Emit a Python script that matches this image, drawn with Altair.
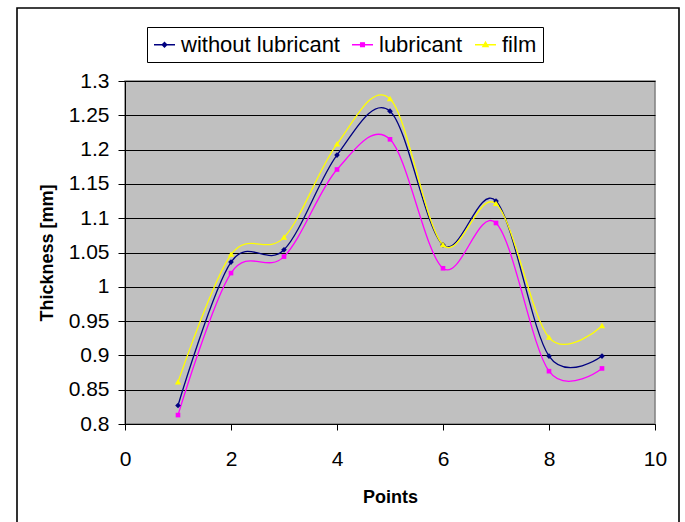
import altair as alt
import pandas as pd

points = [1, 2, 3, 4, 5, 6, 7, 8, 9]
without_lubricant = [0.827, 1.036, 1.054, 1.192, 1.256, 1.061, 1.125, 0.899, 0.899]
lubricant = [0.813, 1.020, 1.044, 1.171, 1.215, 1.027, 1.093, 0.877, 0.881]
film = [0.861, 1.047, 1.072, 1.208, 1.274, 1.061, 1.121, 0.926, 0.943]

series_names = ["without lubricant", "lubricant", "film"]
series_colors = ["#000080", "#FF00FF", "#FFFF00"]
# markers drawn inside a 21px symbol box (diamond, square, triangle)
series_shapes = [
    "M0,-0.27L0.27,0L0,0.27L-0.27,0Z",
    "M-0.22,-0.22L0.22,-0.22L0.22,0.22L-0.22,0.22Z",
    "M0,-0.3L0.3,0.22L-0.3,0.22Z",
]
# legend keys: a short line with the marker in its middle
legend_shapes = [
    "M-1,0L1,0M0,-0.22L0.22,0L0,0.22L-0.22,0Z",
    "M-1,0L1,0M-0.18,-0.18L0.18,-0.18L0.18,0.18L-0.18,0.18Z",
    "M-1,0L1,0M0,-0.25L0.25,0.18L-0.25,0.18Z",
]
x_ticks = [0, 2, 4, 6, 8, 10]
y_ticks = [0.8, 0.85, 0.9, 0.95, 1.0, 1.05, 1.1, 1.15, 1.2, 1.25, 1.3]
caption_text = "(Fig. 2)"

rows = []
for name, vals in zip(series_names, [without_lubricant, lubricant, film]):
    for p, v in zip(points, vals):
        rows.append({"Points": p, "Thickness": v, "Series": name,
                     "order": series_names.index(name)})
df = pd.DataFrame(rows)

FONT = "Liberation Sans"
SYM = 441

x_enc = alt.X(
    "Points:Q",
    scale=alt.Scale(domain=[0, 10], nice=False),
    axis=alt.Axis(
        values=x_ticks, title="Points", grid=False, tickSize=6, labelPadding=18,
        labelFlush=False,
        labelFontSize=21, titleFontSize=18, titleFontWeight="bold", titlePadding=19,
        domainColor="#000000", tickColor="#000000", labelColor="#000000", titleColor="#000000",
        labelFont=FONT, titleFont=FONT,
    ),
)
y_enc = alt.Y(
    "Thickness:Q",
    scale=alt.Scale(domain=[0.8, 1.3], nice=False, zero=False),
    axis=alt.Axis(
        values=y_ticks, format=".2~f", title="Thickness [mm]", grid=True,
        gridColor="#000000", gridWidth=1, tickSize=7, labelPadding=9,
        labelFlush=False,
        labelFontSize=21, titleFontSize=18, titleFontWeight="bold", titlePadding=12,
        domainColor="#000000", tickColor="#000000", labelColor="#000000", titleColor="#000000",
        labelFont=FONT, titleFont=FONT,
    ),
)

lines = alt.Chart(df).mark_line(interpolate="cardinal", tension=0, strokeWidth=1.3).encode(
    x=x_enc,
    y=y_enc,
    color=alt.Color("Series:N", scale=alt.Scale(domain=series_names, range=series_colors), legend=None),
    detail="Series:N",
    order="Points:Q",
)

pts = alt.Chart(df).mark_point(filled=True, size=SYM, opacity=1, strokeWidth=0.6).encode(
    x=x_enc,
    y=y_enc,
    color=alt.Color("Series:N", scale=alt.Scale(domain=series_names, range=series_colors), legend=None),
    shape=alt.Shape("Series:N", scale=alt.Scale(domain=series_names, range=series_shapes), legend=None),
    order="order:Q",
)

legend_props = dict(
    title=None, orient="none", legendX=22, legendY=-54, direction="horizontal",
    padding=6, labelFontSize=22, labelFont=FONT, labelColor="#000000",
    labelOffset=5, columnPadding=9, symbolSize=SYM, symbolOpacity=1,
    symbolStrokeWidth=1.3, strokeColor="#000000", fillColor="#FFFFFF",
)

# invisible layer whose only role is to carry the legend (line + marker keys)
legend_layer = alt.Chart(df).mark_point(opacity=0, filled=False, strokeWidth=1.3).encode(
    x=x_enc,
    y=y_enc,
    fill=alt.Fill("Series:N", scale=alt.Scale(domain=series_names, range=series_colors),
                  legend=alt.Legend(**legend_props)),
    stroke=alt.Stroke("Series:N", scale=alt.Scale(domain=series_names, range=series_colors),
                      legend=alt.Legend(**legend_props)),
    shape=alt.Shape("Series:N", scale=alt.Scale(domain=series_names, range=legend_shapes),
                    legend=alt.Legend(**legend_props)),
)

frame_df = pd.DataFrame({"k": [0]})
outer = alt.Chart(frame_df).mark_rect(fill=None, stroke="#000000", strokeWidth=1.6).encode(
    x=alt.value(-108), x2=alt.value(554), y=alt.value(-73), y2=alt.value(450)
)

caption = alt.Chart(frame_df).mark_text(
    text=caption_text, font="Liberation Serif", fontSize=24, align="left",
    baseline="alphabetic", color="#000000"
).encode(x=alt.value(5), y=alt.value(-88))

chart = alt.layer(outer, caption, lines, pts, legend_layer).resolve_scale(
    shape="independent", fill="independent", stroke="independent"
).properties(
    width=530,
    height=343,
    autosize="none",
    padding={"left": 125, "top": 81, "right": 30, "bottom": 98},
    background="#FFFFFF",
).configure_view(
    fill="#C0C0C0", stroke="#808080", strokeWidth=1.5
)

chart.save("out.html", embed_options={"renderer": "svg", "actions": False})
